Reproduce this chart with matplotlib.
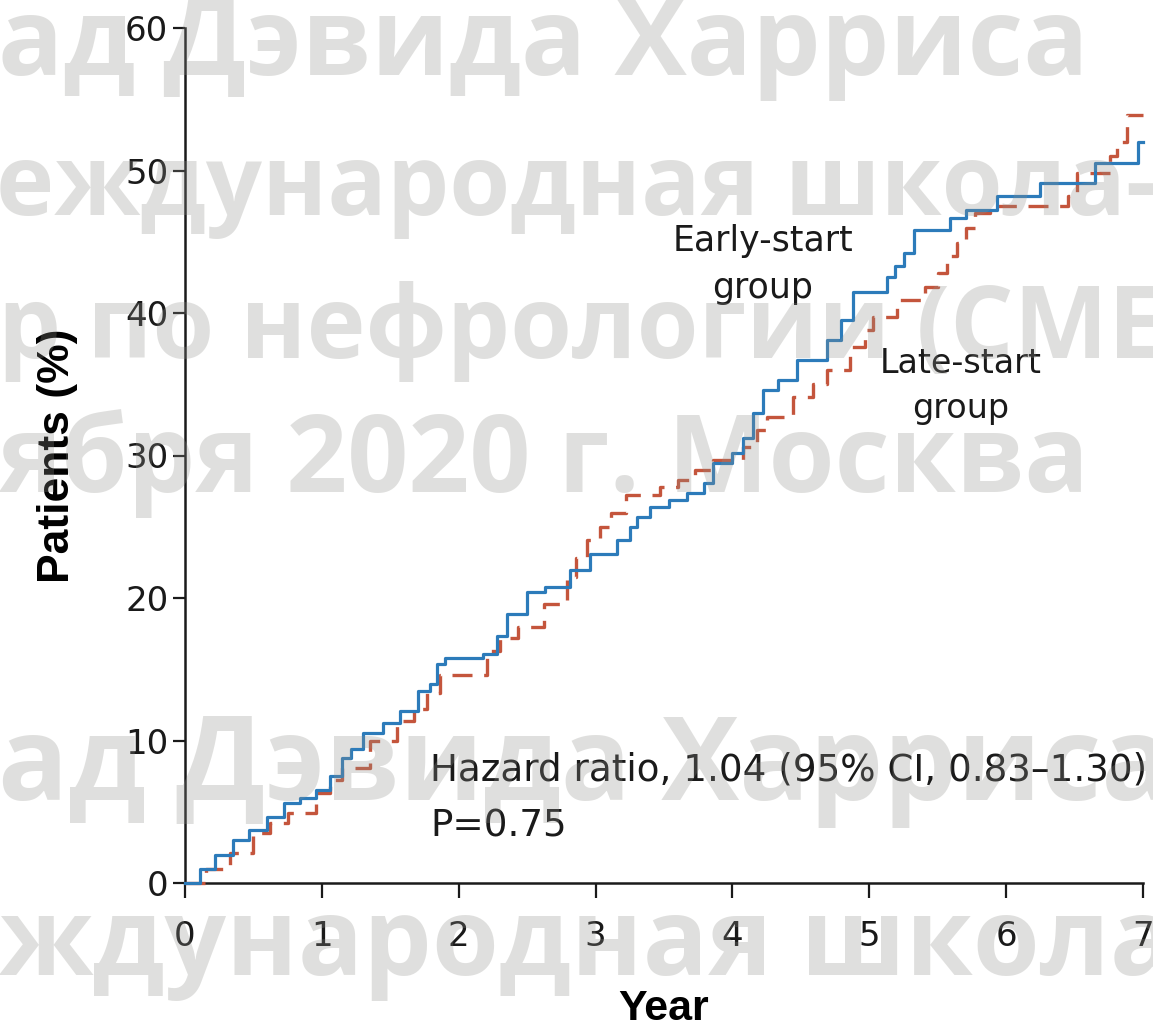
import matplotlib
matplotlib.use("Agg")
import matplotlib.pyplot as plt

# Cumulative incidence (%) for each arm, as step events (time in years, value after the step)
early_years = [0.0, 0.11, 0.22, 0.35, 0.47, 0.60, 0.72, 0.84, 0.96, 1.06, 1.15, 1.21, 1.30,
               1.45, 1.57, 1.70, 1.79, 1.84, 1.90, 2.18, 2.28, 2.35, 2.50, 2.63, 2.81, 2.96,
               3.16, 3.25, 3.30, 3.40, 3.54, 3.67, 3.79, 3.86, 4.00, 4.08, 4.15, 4.22, 4.33,
               4.47, 4.69, 4.79, 4.88, 5.13, 5.19, 5.25, 5.33, 5.59, 5.71, 5.93, 6.25, 6.65,
               6.96, 7.0]
early_pct = [0.0, 1.0, 2.0, 3.0, 3.7, 4.6, 5.6, 6.0, 6.5, 7.5, 8.8, 9.4, 10.5,
             11.2, 12.1, 13.5, 14.0, 15.4, 15.8, 16.1, 17.3, 18.9, 20.4, 20.8, 22.0, 23.1,
             24.1, 25.0, 25.7, 26.4, 26.9, 27.4, 28.1, 29.5, 30.2, 31.2, 33.0, 34.6, 35.3,
             36.7, 38.1, 39.5, 41.5, 42.5, 43.3, 44.2, 45.8, 46.7, 47.2, 48.2, 49.1, 50.5,
             52.0, 52.0]

late_years = [0.0, 0.15, 0.33, 0.50, 0.62, 0.75, 0.96, 1.06, 1.15, 1.35, 1.55, 1.67, 1.77,
              1.86, 2.21, 2.30, 2.43, 2.62, 2.79, 2.86, 2.94, 3.03, 3.11, 3.22, 3.47, 3.60,
              3.73, 3.86, 4.08, 4.18, 4.25, 4.44, 4.59, 4.69, 4.86, 4.97, 5.03, 5.20, 5.41,
              5.50, 5.57, 5.64, 5.71, 5.77, 5.88, 6.45, 6.52, 6.76, 6.81, 6.88, 7.0]
late_pct = [0.0, 1.0, 2.1, 3.5, 4.2, 4.9, 6.3, 7.2, 8.1, 10.0, 11.4, 12.2, 13.3,
            14.6, 16.3, 17.2, 18.0, 19.6, 21.5, 22.8, 24.1, 25.0, 26.0, 27.2, 27.8, 28.3,
            29.0, 29.7, 30.6, 31.8, 32.7, 34.1, 35.0, 36.0, 37.6, 38.8, 39.7, 40.9, 41.8,
            42.8, 44.0, 44.9, 46.0, 47.0, 47.5, 48.2, 49.8, 51.0, 52.0, 53.9, 53.9]

x_ticks = [0, 1, 2, 3, 4, 5, 6, 7]
y_ticks = [0, 10, 20, 30, 40, 50, 60]

BLUE = "#2c7bba"
RED = "#c4553c"
TXT = "DejaVu Sans"

W, H = 1153, 1030
fig = plt.figure(figsize=(W / 100, H / 100), dpi=100)
fig.patch.set_facecolor("white")

ax = fig.add_axes([185 / W, 1 - 883 / H, (1143 - 185) / W, (883 - 28) / H])
ax.set_xlim(0, 7)
ax.set_ylim(0, 60)

ax.step(late_years, late_pct, where="post", color=RED, lw=2.4,
        dashes=(6.0, 3.5), clip_on=False, zorder=3)
ax.step(early_years, early_pct, where="post", color=BLUE, lw=2.3,
        clip_on=False, zorder=4)

for side in ("top", "right"):
    ax.spines[side].set_visible(False)
for side in ("left", "bottom"):
    ax.spines[side].set_linewidth(1.8)
    ax.spines[side].set_color("#1a1a1a")

ax.set_xticks(x_ticks)
ax.set_yticks(y_ticks)
ax.tick_params(axis="x", direction="out", length=10.5, width=1.6, pad=16,
               labelsize=24.5, colors="#1a1a1a")
ax.tick_params(axis="y", direction="out", length=9, width=1.6, pad=3,
               labelsize=24.5, colors="#1a1a1a")
for lab in ax.get_xticklabels() + ax.get_yticklabels():
    lab.set_fontfamily(TXT)

ax.set_xlabel("Year", fontsize=31, fontweight="bold", family="Liberation Sans",
              labelpad=26)
ax.set_ylabel("Patients (%)", fontsize=32, fontweight="bold", family="Liberation Sans",
              labelpad=34)

ax.text(4.22, 43.4, "Early-start\ngroup", ha="center", va="center", fontsize=25,
        family=TXT, linespacing=1.45, color="#1a1a1a")
ax.text(5.67, 34.9, "Late-start\ngroup", ha="center", va="center", fontsize=24,
        family=TXT, linespacing=1.45, color="#1a1a1a")
ax.text(1.79, 7.9, "Hazard ratio, 1.04 (95% CI, 0.83\u20131.30)", ha="left",
        va="center", fontsize=26.8, family=TXT, color="#1a1a1a", clip_on=False)
ax.text(1.79, 4.0, "P=0.75", ha="left", va="center", fontsize=26.8, family=TXT,
        color="#1a1a1a")

# Translucent watermark lines laid over the whole figure
wm_rows = [
    ("ад Дэвида Харриса", -2, 75, 78),
    ("еждународная школа-", -4, 215, 71),
    ("р по нефрологии (СМЕ", -2, 358, 72),
    ("ября 2020 г. Москва", -2, 492, 77),
    ("ад Дэвида Харриса", -2, 800, 84),
    ("ждународная школа", -2, 975, 78),
]
for text, x0, base, size in wm_rows:
    fig.text(x0 / W, 1 - base / H, text, ha="left", va="baseline",
             fontsize=size, fontweight="bold", family="Open Sans",
             color="#8f8f8a", alpha=0.28, zorder=10)

fig.savefig("out.png", dpi=100, facecolor="white")
